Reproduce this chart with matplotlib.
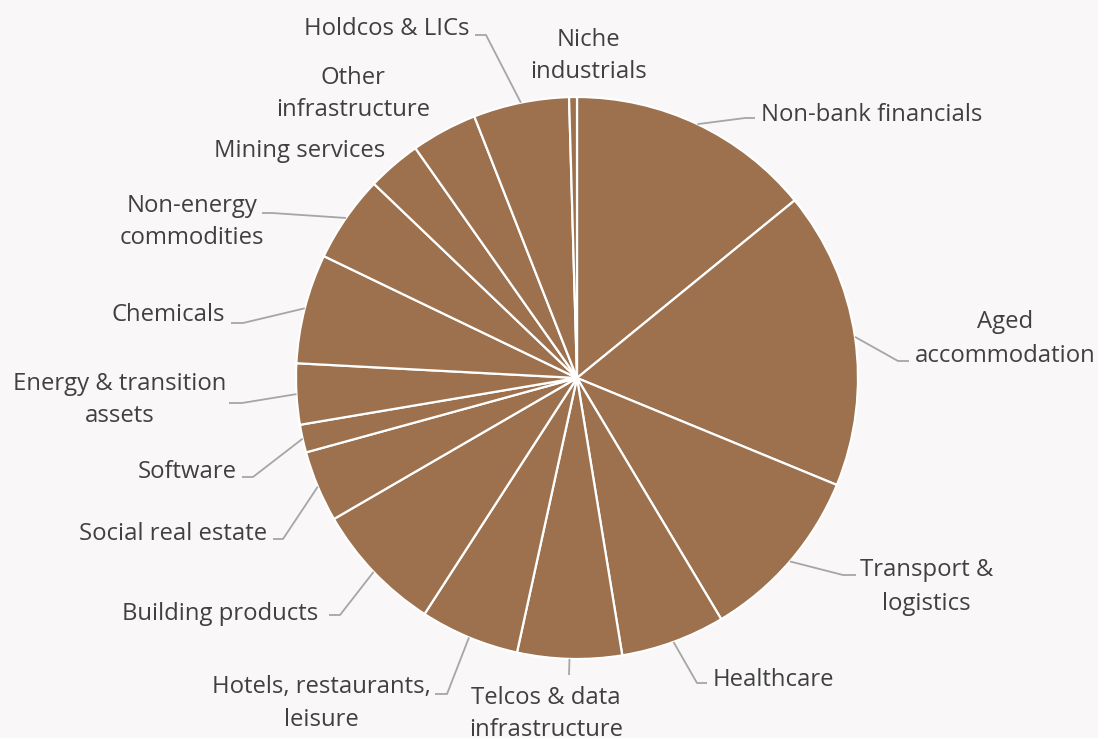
import numpy as np
import matplotlib.pyplot as plt

# Portfolio split by sector (% of total)
sectors = [
    "Non-bank financials", "Aged\naccommodation", "Transport &\nlogistics",
    "Healthcare", "Telcos & data\ninfrastructure", "Hotels, restaurants,\nleisure",
    "Building products", "Social real estate", "Software",
    "Energy & transition\nassets", "Chemicals", "Non-energy\ncommodities",
    "Mining services", "Other\ninfrastructure", "Holdcos & LICs", "Niche\nindustrials",
]
shares = [14.1, 17.1, 10.2, 6.0, 6.0, 5.7, 7.5, 4.1, 1.6, 3.5, 6.3, 5.0, 3.1, 3.8, 5.5, 0.45]

W, H = 1098, 738
CX, CY, R = 577, 378, 281

BROWN = "#9D714E"
BG = "#F9F7F7"
TEXT = "#404040"
LINE = "#A6A6A6"

# label placement in pixel space: (x, y, ha), leader elbow and end (None = no leader)
label_pos = [
    (761, 115, "left"), (1005, 339, "center"), (860, 587, "left"),
    (713, 680, "left"), (546, 714, "center"), (431, 703, "right"),
    (318, 614, "right"), (267, 534, "right"), (237, 472, "right"),
    (226, 400, "right"), (225, 315, "right"), (264, 222, "right"),
    (385, 151, "right"), (430, 94, "right"), (470, 29, "right"),
    (588, 56, "center"),
]
leaders = [
    ((745, 118), (755, 118)), ((898, 361), (909, 361)), ((843, 575), (856, 575)),
    ((697, 683), (707, 683)), ((569, 675), (569, 675)), ((447, 694), (435, 694)),
    ((340, 615), (329, 615)), ((283, 539), (273, 539)), ((253, 477), (242, 477)),
    ((242, 403), (229, 403)), ((243, 323), (231, 323)), ((272, 213), (262, 213)),
    None, None, ((486, 35), (475, 35)), None,
]


def py(y):
    return H - y


plt.rcParams["font.family"] = ["Open Sans", "DejaVu Sans"]

fig = plt.figure(figsize=(W / 100, H / 100), dpi=100, facecolor=BG)
ax = fig.add_axes([0, 0, 1, 1])
ax.set_facecolor(BG)

wedges, _ = ax.pie(shares, center=(CX, py(CY)), radius=R, startangle=90,
                   counterclock=False, colors=[BROWN] * len(shares),
                   wedgeprops=dict(edgecolor="white", linewidth=1.6))

ax.set_xlim(0, W)
ax.set_ylim(0, H)
ax.set_aspect("equal")
ax.axis("off")

for w, name, (tx, ty, ha), ld in zip(wedges, sectors, label_pos, leaders):
    mid = np.deg2rad((w.theta1 + w.theta2) / 2)
    ax_x = CX + R * np.cos(mid)
    ax_y = py(CY) + R * np.sin(mid)
    if ld is not None:
        (ex, ey), (fx, fy) = ld
        ax.plot([ax_x, ex, fx], [ax_y, py(ey), py(fy)], color=LINE, lw=1.3,
                solid_capstyle="butt", clip_on=False)
    ax.text(tx, py(ty), name, ha=ha, va="center", multialignment="center",
            fontsize=17.2, color=TEXT, linespacing=1.5)

fig.savefig("out.png", dpi=100, facecolor=BG)
